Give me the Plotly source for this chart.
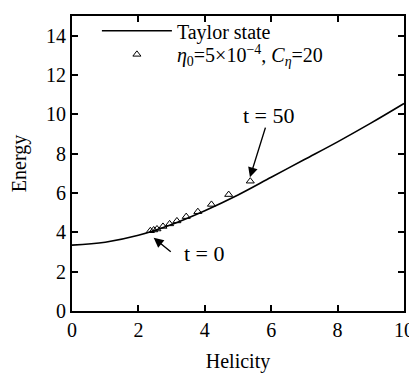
import plotly.graph_objects as go

# Taylor state curve
taylor_helicity = [0, 1, 2, 3, 4, 5, 6, 7, 8, 9, 10]
taylor_energy = [3.35, 3.5, 3.85, 4.4, 5.1, 5.9, 6.8, 7.7, 8.6, 9.55, 10.55]

# simulation points, t = 0 ... t = 50
sim_helicity = [2.36, 2.46, 2.56, 2.74, 2.94, 3.16, 3.44, 3.79, 4.2, 4.72, 5.37]
sim_energy = [4.08, 4.12, 4.17, 4.3, 4.43, 4.58, 4.8, 5.05, 5.42, 5.92, 6.6]

FONT = "Liberation Serif"

fig = go.Figure()
fig.add_trace(go.Scatter(x=taylor_helicity, y=taylor_energy, mode="lines",
                         line=dict(color="black", width=1.6, shape="spline"),
                         name="Taylor state", legend="legend"))
fig.add_trace(go.Scatter(x=sim_helicity, y=sim_energy, mode="markers",
                         marker=dict(symbol="triangle-up-open", size=7,
                                     color="black", line=dict(width=1)),
                         name="<i>η</i><sub>0</sub>=5×10<sup>−4</sup>, <i>C<sub>η</sub></i>=20",
                         legend="legend2"))

annotations = []
# t = 50 arrow + label
annotations.append(dict(x=5.36, y=6.8, ax=5.84, ay=9.4, xref="x", yref="y",
                        axref="x", ayref="y", text="", showarrow=True,
                        arrowhead=2, arrowsize=1.4, arrowwidth=1.4,
                        arrowcolor="black"))
annotations.append(dict(x=5.93, y=9.95, text="t = 50", showarrow=False,
                        font=dict(family=FONT, size=22, color="black")))
# t = 0 arrow + label
annotations.append(dict(x=2.46, y=3.72, ax=3.02, ay=2.95, xref="x", yref="y",
                        axref="x", ayref="y", text="", showarrow=True,
                        arrowhead=2, arrowsize=1.4, arrowwidth=1.4,
                        arrowcolor="black"))
annotations.append(dict(x=3.98, y=2.92, text="t = 0", showarrow=False,
                        font=dict(family=FONT, size=22, color="black")))

legend_style = dict(xanchor="left", yanchor="middle", bgcolor="rgba(0,0,0,0)",
                    font=dict(family=FONT, size=20), itemwidth=70)

# the page has an 8px body margin, so the figure is 8px smaller than the window
fig.update_layout(
    width=409, height=369,
    margin=dict(l=64, r=11, t=3, b=66),
    paper_bgcolor="white", plot_bgcolor="white",
    font=dict(family=FONT, size=20, color="black"),
    annotations=annotations,
    showlegend=True,
    legend=dict(x=0.075, y=0.95, **legend_style),
    legend2=dict(x=0.075, y=0.87, **legend_style),
)

axis_style = dict(showgrid=False, zeroline=False, showline=True,
                  linecolor="black", linewidth=2, mirror="ticks",
                  ticks="inside", ticklen=6, tickwidth=1.5, tickcolor="black",
                  tickfont=dict(family=FONT, size=20))

fig.update_xaxes(range=[0, 10], dtick=2,
                 title=dict(text="Helicity", standoff=14, font=dict(family=FONT, size=20)),
                 **axis_style)
fig.update_yaxes(range=[0, 15], tickvals=[0, 2, 4, 6, 8, 10, 12, 14],
                 title=dict(text="Energy", standoff=16, font=dict(family=FONT, size=20)),
                 **axis_style)

fig.write_html("out.html")
